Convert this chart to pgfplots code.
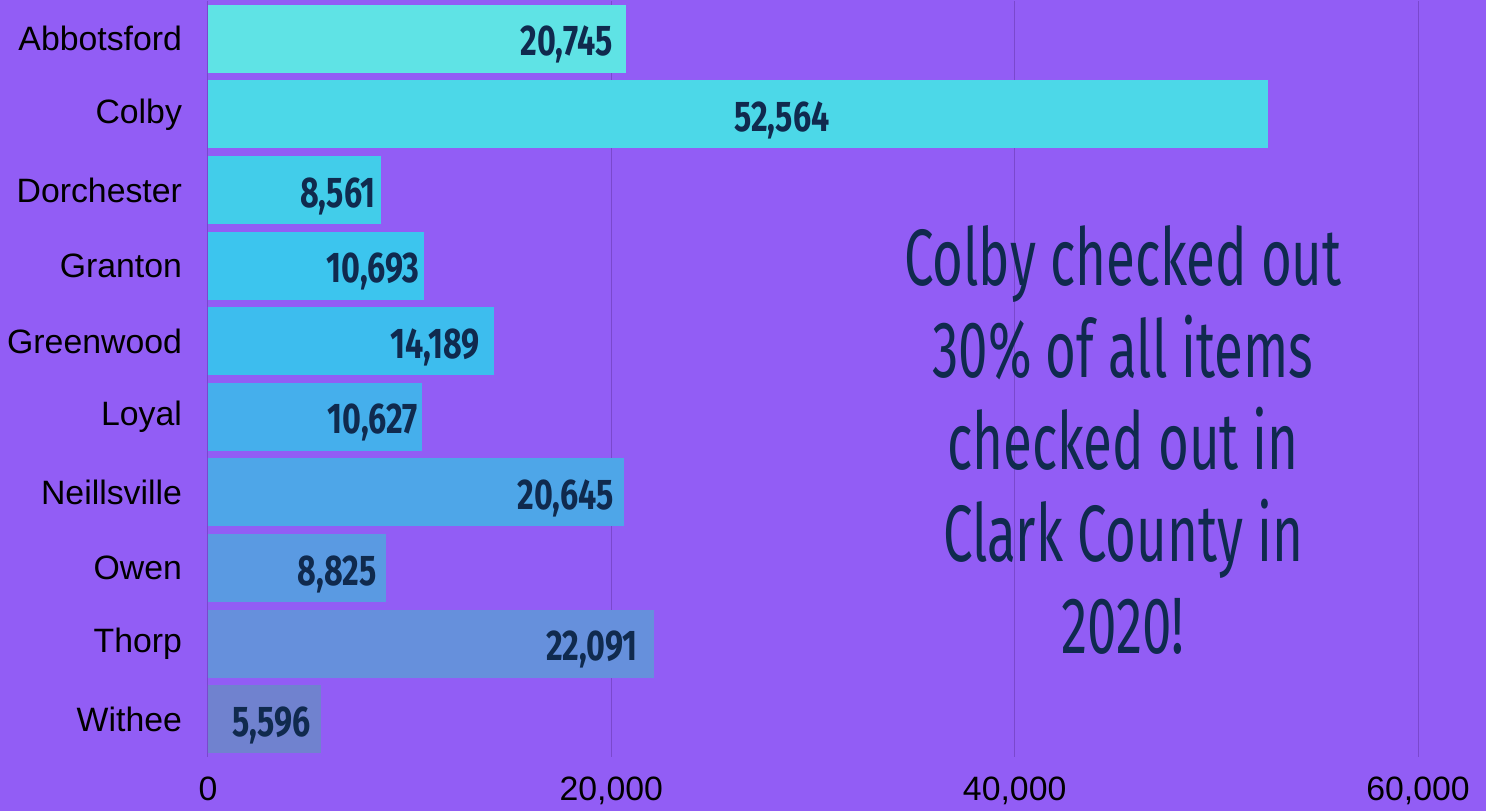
\documentclass[border=0pt]{standalone}
\usepackage{pgfplots}
\pgfplotsset{compat=1.18}
\usepackage{fontspec}
\setmainfont{Liberation Sans}
\newfontfamily\barfont[FakeStretch=0.75]{Fira Sans}
\newfontfamily\notefont[FakeStretch=0.66]{Fira Sans}
\definecolor{bg}{RGB}{146,93,245}
\definecolor{gridcol}{RGB}{122,72,205}
\definecolor{navy}{RGB}{16,42,78}
\definecolor{c0}{RGB}{95,227,229}
\definecolor{c1}{RGB}{76,216,232}
\definecolor{c2}{RGB}{66,205,234}
\definecolor{c3}{RGB}{60,197,238}
\definecolor{c4}{RGB}{61,189,238}
\definecolor{c5}{RGB}{69,175,236}
\definecolor{c6}{RGB}{78,166,232}
\definecolor{c7}{RGB}{90,154,226}
\definecolor{c8}{RGB}{102,144,220}
\definecolor{c9}{RGB}{112,130,207}
\pgfplotsset{mybar/.style={xbar, bar width=34pt, bar shift=0pt, draw=none, fill=#1}}
\begin{document}
\begin{tikzpicture}
\fill[bg] (-104pt,-27pt) rectangle (639pt,378.5pt);
\begin{axis}[
  at={(0,0)}, anchor=south west,
  scale only axis, width=605pt, height=378pt,
  xmin=0, xmax=60000, ymin=-0.5, ymax=9.5, y dir=reverse,
  scaled ticks=false,
  axis line style={draw=none}, major tick length=0pt,
  xtick={0,20000,40000,60000},
  xticklabels={0,{20,000},{40,000},{60,000}},
  ytick={0,1,2,3,4,5,6,7,8,9},
  yticklabels={Abbotsford,Colby,Dorchester,Granton,Greenwood,Loyal,Neillsville,Owen,Thorp,Withee},
  xmajorgrids, grid style={gridcol, line width=0.5pt},
  tick label style={font=\fontsize{16.9}{20}\selectfont, text=black},
  yticklabel style={xshift=-9.5pt},
  xticklabel style={yshift=-6.4pt},
  clip=false,
]
\addplot[mybar=c0] coordinates {(20745,0)};
\addplot[mybar=c1] coordinates {(52564,1)};
\addplot[mybar=c2] coordinates {(8561,2)};
\addplot[mybar=c3] coordinates {(10693,3)};
\addplot[mybar=c4] coordinates {(14189,4)};
\addplot[mybar=c5] coordinates {(10627,5)};
\addplot[mybar=c6] coordinates {(20645,6)};
\addplot[mybar=c7] coordinates {(8825,7)};
\addplot[mybar=c8] coordinates {(22091,8)};
\addplot[mybar=c9] coordinates {(5596,9)};
\addplot[draw=none, mark=none, nodes near coords, point meta=explicit symbolic,
  nodes near coords style={anchor=east, inner sep=0pt, text=navy, yshift=-3pt,
    font=\barfont\bfseries\fontsize{21.5}{24}\selectfont}]
  table[meta=label] {
x y label
20083 0 20,745
30843 1 52,564
8331 2 8,561
10512 3 10,693
13488 4 14,189
10413 5 10,627
20132 6 20,645
8380 7 8,825
21322 8 22,091
5107 9 5,596
};
\node[align=center, text=navy, font=\notefont\fontsize{40}{46}\selectfont]
  at (axis cs:45372,5.307) {Colby checked out\\30\% of all items\\checked out in\\Clark County in\\2020!};
\end{axis}
\end{tikzpicture}
\end{document}
